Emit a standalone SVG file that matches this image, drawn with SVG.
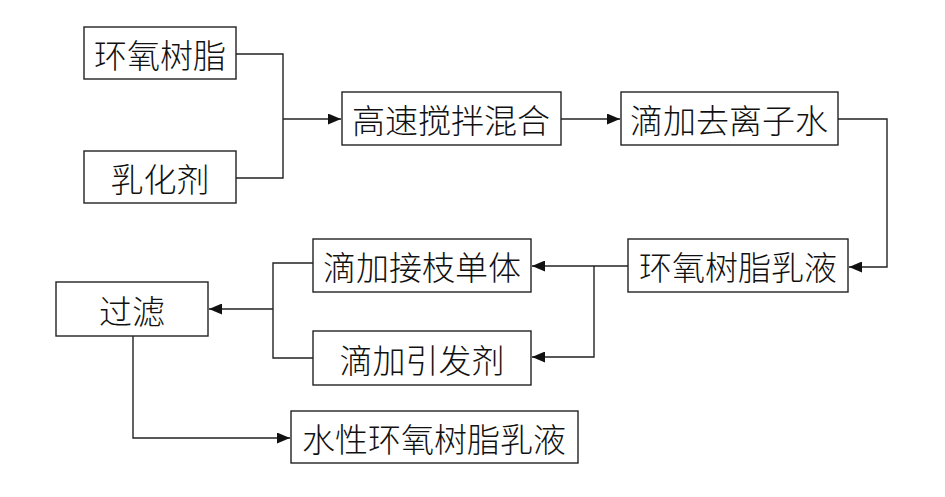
<svg xmlns="http://www.w3.org/2000/svg" width="945" height="497" viewBox="0 0 945 497">
<defs>
<marker id="ah" viewBox="0 0 13 11" refX="13" refY="5.5" markerWidth="13" markerHeight="11" markerUnits="userSpaceOnUse" orient="auto">
<path d="M0,0 L13,5.5 L0,11 Z" fill="#111"/>
</marker>
<style>
.box{fill:#fff;stroke:#222;stroke-width:1.4}
.t{font-family:"Noto Sans CJK SC","Noto Sans CJK JP",sans-serif;font-size:33px;font-weight:300;fill:#111;text-anchor:middle;dominant-baseline:central}
.c{fill:none;stroke:#222;stroke-width:1.4}
</style>
</defs>
<rect width="945" height="497" fill="#fff"/>
<g id="connectors">
<polyline class="c" points="236,54 283,54 283,178 236,178"/>
<line class="c" x1="283" y1="119" x2="341" y2="119" marker-end="url(#ah)"/>
<line class="c" x1="561" y1="119" x2="620" y2="119" marker-end="url(#ah)"/>
<polyline class="c" points="838,119 887,119 887,267 849,267" marker-end="url(#ah)"/>
<line class="c" x1="628" y1="266" x2="532" y2="266" marker-end="url(#ah)"/>
<polyline class="c" points="594,266 594,357 532,357" marker-end="url(#ah)"/>
<polyline class="c" points="313,263 273,263 273,358 313,358"/>
<line class="c" x1="273" y1="309" x2="209" y2="309" marker-end="url(#ah)"/>
<polyline class="c" points="133,336 133,438 290,438" marker-end="url(#ah)"/>
</g>
<g id="n1"><rect class="box" x="84" y="27" width="152" height="52"/><text class="t" x="160" y="54">环氧树脂</text></g>
<g id="n2"><rect class="box" x="84" y="151" width="152" height="52"/><text class="t" x="160" y="178">乳化剂</text></g>
<g id="n3"><rect class="box" x="342" y="92" width="219" height="53"/><text class="t" x="451" y="119">高速搅拌混合</text></g>
<g id="n4"><rect class="box" x="621" y="92" width="217" height="53"/><text class="t" x="729" y="119">滴加去离子水</text></g>
<g id="n5"><rect class="box" x="628" y="239" width="220" height="53"/><text class="t" x="738" y="266">环氧树脂乳液</text></g>
<g id="n6"><rect class="box" x="313" y="239" width="218" height="53"/><text class="t" x="422" y="266">滴加接枝单体</text></g>
<g id="n7"><rect class="box" x="313" y="331" width="218" height="54"/><text class="t" x="422" y="359">滴加引发剂</text></g>
<g id="n8"><rect class="box" x="56" y="282" width="152" height="54"/><text class="t" x="132" y="310">过滤</text></g>
<g id="n9"><rect class="box" x="291" y="411" width="287" height="52"/><text class="t" x="434" y="438">水性环氧树脂乳液</text></g>
</svg>
